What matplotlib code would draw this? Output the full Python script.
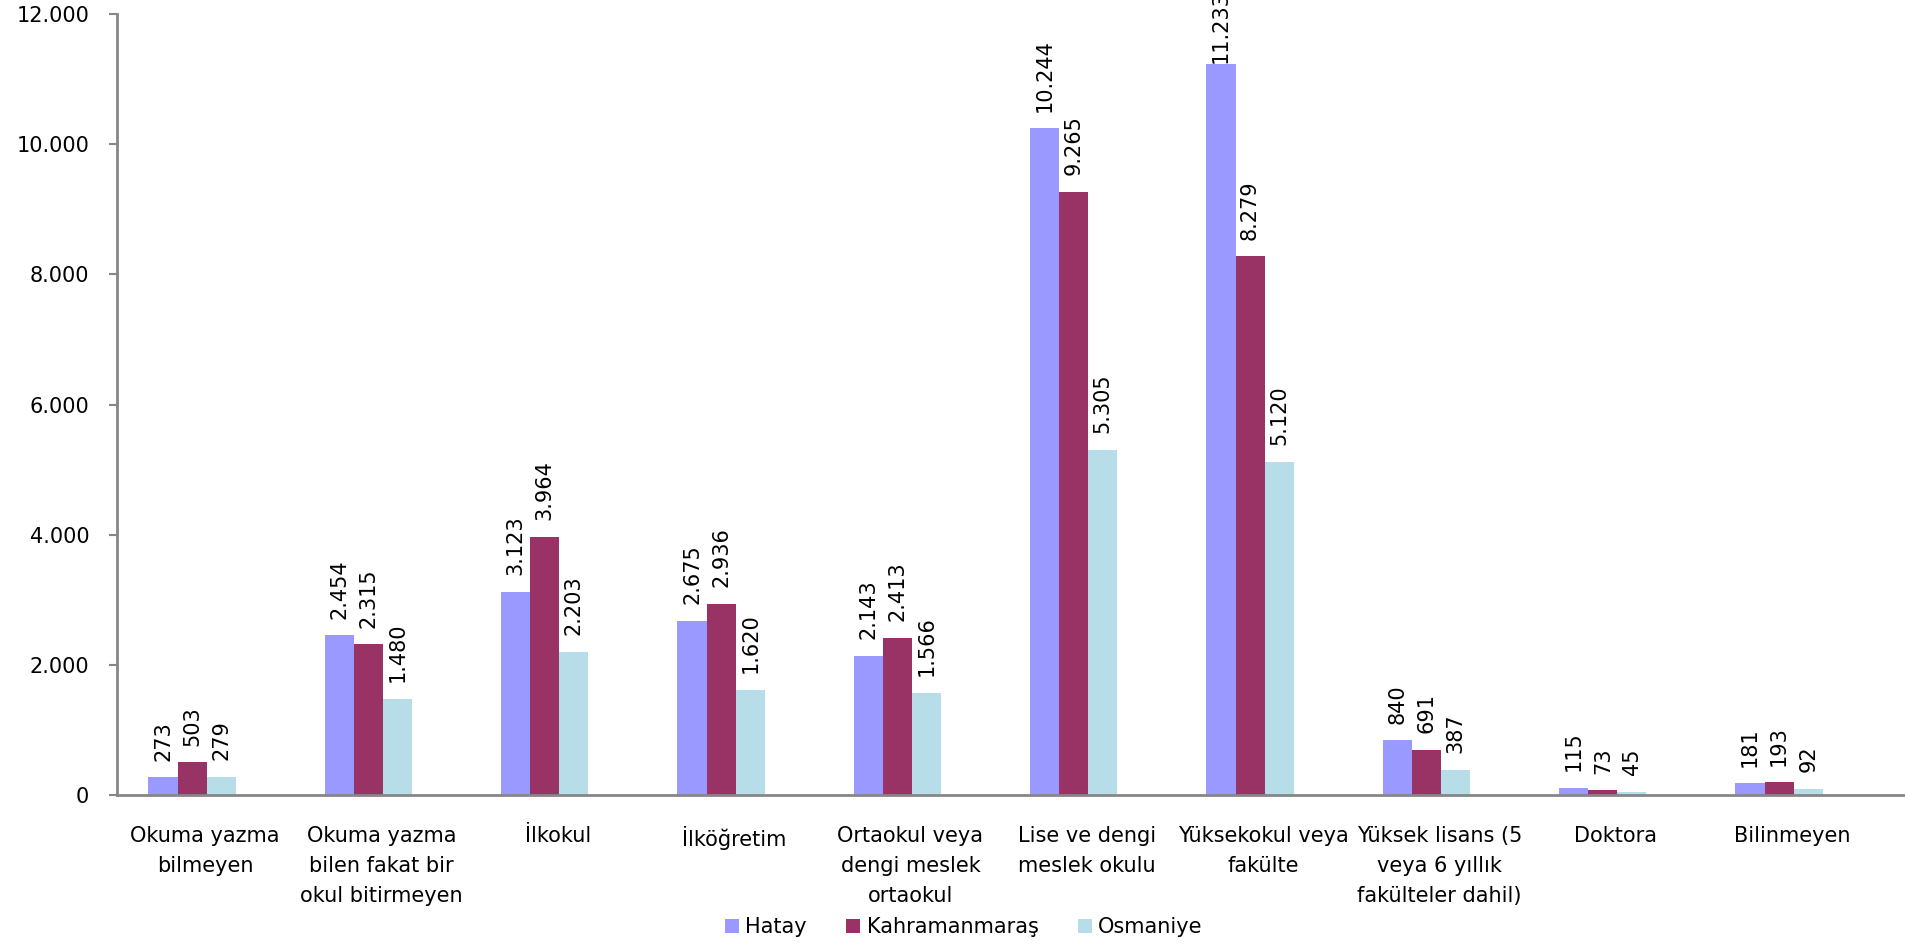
import matplotlib.pyplot as plt
import numpy as np

categories = ['Okuma yazma\nbilmeyen', 'Okuma yazma\nbilen fakat bir\nokul bitirmeyen', 'İlkokul',
              'İlköğretim', 'Ortaokul veya\ndengi meslek\nortaokul', 'Lise ve dengi\nmeslek okulu',
              'Yüksekokul veya\nfakülte', 'Yüksek lisans (5\nveya 6 yıllık\nfakülteler dahil)',
              'Doktora', 'Bilinmeyen']
hatay = [273, 2454, 3123, 2675, 2143, 10244, 11233, 840, 115, 181]
kahramanmaras = [503, 2315, 3964, 2936, 2413, 9265, 8279, 691, 73, 193]
osmaniye = [279, 1480, 2203, 1620, 1566, 5305, 5120, 387, 45, 92]
series_names = ['Hatay', 'Kahramanmaraş', 'Osmaniye']
colors = ['#9999FF', '#993366', '#B7DEE8']

plt.rcParams['font.family'] = ['DejaVu Sans']


def fmt(v):
    return '{:,}'.format(v).replace(',', '.')


fig = plt.figure(figsize=(19.05, 9.44), dpi=100)
ax = fig.add_axes([117 / 1905, 1 - 795 / 944, 1 - 117 / 1905, (795 - 14) / 944])

x = np.arange(len(categories))
width = 0.165
shift = -0.074  # bar groups sit a bit left of the category centre
for i, (vals, name, c) in enumerate(zip([hatay, kahramanmaras, osmaniye], series_names, colors)):
    pos = x + shift + (i - 1) * width
    ax.bar(pos, vals, width, color=c, label=name, zorder=2)
    for p, v in zip(pos, vals):
        gap = 12 if v < 11000 else 1  # label of the tallest bar is pushed against the top
        ax.annotate(fmt(v), (p, v), xytext=(0, gap), textcoords='offset points',
                    rotation=90, ha='center', va='bottom', fontsize=15, annotation_clip=False)

ax.set_xlim(-0.5, 9.64)
ax.set_ylim(0, 12000)
ax.set_yticks(np.arange(0, 12001, 2000))
ax.set_yticklabels([fmt(v) for v in range(0, 12001, 2000)], fontsize=15)
ax.set_xticks(x)
ax.set_xticklabels(categories, fontsize=15, linespacing=1.65)
ax.tick_params(axis='x', length=0, pad=22)
ax.tick_params(axis='y', length=6, width=1.5, color='#868686', pad=14)

for s in ['top', 'right']:
    ax.spines[s].set_visible(False)
for s in ['left', 'bottom']:
    ax.spines[s].set_color('#868686')
    ax.spines[s].set_linewidth(2)

fig.legend(loc='center', bbox_to_anchor=(0.506, 1 - 927 / 944), ncol=3, frameon=False,
           fontsize=15, handlelength=0.67, handleheight=0.67, columnspacing=1.9, handletextpad=0.3,
           borderpad=0)

fig.savefig('out.png', dpi=100)
